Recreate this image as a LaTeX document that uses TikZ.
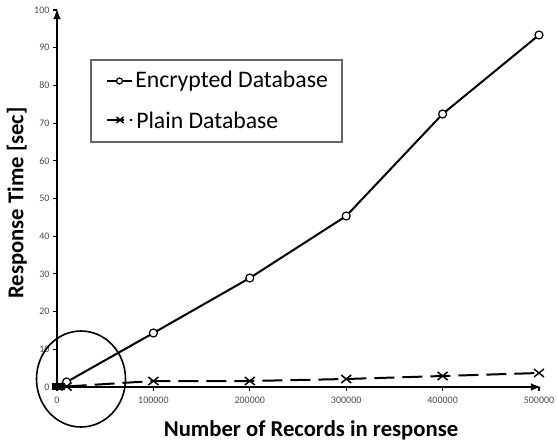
\documentclass[tikz,border=0pt]{standalone}
\usepackage{fontspec}
\setmainfont{Carlito}
\usetikzlibrary{calc}
\definecolor{tickgray}{rgb}{0.300000,0.300000,0.300000}
\definecolor{boxgray}{rgb}{0.400000,0.400000,0.400000}
\tikzset{
  axisline/.style={line width=1.6pt,-latex},
  tickline/.style={line width=0.8pt},
  ticklabel/.style={font=\fontsize{7.5}{8}\selectfont,text=tickgray,inner sep=1pt},
  encline/.style={line width=1.5pt},
  plainline/.style={line width=1.5pt,dash pattern=on 15pt off 6pt},
  circmark/.style={line width=0.9pt},
  crossmark/.style={line width=1.1pt},
  axislabel/.style={font=\fontsize{17}{20}\selectfont\bfseries},
  legendtext/.style={font=\fontsize{17.8}{20}\selectfont,anchor=west,inner sep=0pt}
}
\begin{document}
\begin{tikzpicture}[x=0.75pt,y=0.75pt]
                    \useasboundingbox (0,0) rectangle (557,447);
                    {\footnotesize

                    % Axes
                    \coordinate (origin) at (57.000000,60.000000);
                    \coordinate (xend) at (541.000000,60.000000);
                    \coordinate (yend) at (57.000000,438.000000);
                    \draw [axisline] (origin) -- (xend);%
                    \draw [axisline] (origin) -- (yend);%

                    % Ticks on y axis
                    \draw [tickline] (53.000000,60.000000) -- (57.000000,60.000000);%
                    \draw [tickline] (53.000000,97.700000) -- (57.000000,97.700000);%
                    \draw [tickline] (53.000000,135.400000) -- (57.000000,135.400000);%
                    \draw [tickline] (53.000000,173.100000) -- (57.000000,173.100000);%
                    \draw [tickline] (53.000000,210.800000) -- (57.000000,210.800000);%
                    \draw [tickline] (53.000000,248.500000) -- (57.000000,248.500000);%
                    \draw [tickline] (53.000000,286.200000) -- (57.000000,286.200000);%
                    \draw [tickline] (53.000000,323.900000) -- (57.000000,323.900000);%
                    \draw [tickline] (53.000000,361.600000) -- (57.000000,361.600000);%
                    \draw [tickline] (53.000000,399.300000) -- (57.000000,399.300000);%
                    \draw [tickline] (53.000000,437.000000) -- (57.000000,437.000000);%
                    \node [ticklabel,anchor=east] (y0) at (51.000000,60.000000) {0};%
                    \node [ticklabel,anchor=east] (y10) at (51.000000,97.700000) {10};%
                    \node [ticklabel,anchor=east] (y20) at (51.000000,135.400000) {20};%
                    \node [ticklabel,anchor=east] (y30) at (51.000000,173.100000) {30};%
                    \node [ticklabel,anchor=east] (y40) at (51.000000,210.800000) {40};%
                    \node [ticklabel,anchor=east] (y50) at (51.000000,248.500000) {50};%
                    \node [ticklabel,anchor=east] (y60) at (51.000000,286.200000) {60};%
                    \node [ticklabel,anchor=east] (y70) at (51.000000,323.900000) {70};%
                    \node [ticklabel,anchor=east] (y80) at (51.000000,361.600000) {80};%
                    \node [ticklabel,anchor=east] (y90) at (51.000000,399.300000) {90};%
                    \node [ticklabel,anchor=east] (y100) at (51.000000,437.000000) {100};%

                    % Ticks on x axis
                    \draw [tickline] (57.000000,56.000000) -- (57.000000,60.000000);%
                    \draw [tickline] (153.400000,56.000000) -- (153.400000,60.000000);%
                    \draw [tickline] (249.800000,56.000000) -- (249.800000,60.000000);%
                    \draw [tickline] (346.200000,56.000000) -- (346.200000,60.000000);%
                    \draw [tickline] (442.600000,56.000000) -- (442.600000,60.000000);%
                    \draw [tickline] (539.000000,56.000000) -- (539.000000,60.000000);%
                    \node [ticklabel] (x0) at (57.000000,47.000000) {0};%
                    \node [ticklabel] (x1) at (153.400000,47.000000) {100000};%
                    \node [ticklabel] (x2) at (249.800000,47.000000) {200000};%
                    \node [ticklabel] (x3) at (346.200000,47.000000) {300000};%
                    \node [ticklabel] (x4) at (442.600000,47.000000) {400000};%
                    \node [ticklabel] (x5) at (539.000000,47.000000) {500000};%

                    % Axis titles
                    \node [axislabel] (xtitle) at (311.000000,17.000000) {Number of Records in response};%
                    \node [axislabel,rotate=90] (ytitle) at (17.000000,244.000000) {Response Time [sec]};%

                    % Data points
                    \coordinate (e0) at (57.000000,60.000000);
                    \coordinate (e1) at (66.600000,65.000000);
                    \coordinate (e2) at (153.400000,114.000000);
                    \coordinate (e3) at (249.800000,169.000000);
                    \coordinate (e4) at (346.200000,231.000000);
                    \coordinate (e5) at (442.600000,333.000000);
                    \coordinate (e6) at (539.000000,412.000000);
                    \coordinate (p0) at (57.000000,60.000000);
                    \coordinate (p1) at (66.600000,60.500000);
                    \coordinate (p2) at (153.400000,66.000000);
                    \coordinate (p3) at (249.800000,66.000000);
                    \coordinate (p4) at (346.200000,68.000000);
                    \coordinate (p5) at (442.600000,71.000000);
                    \coordinate (p6) at (539.000000,74.000000);

                    % Drawing encrypted database
                    \draw [encline] (e0) -- (e1) -- (e2) -- (e3) -- (e4) -- (e5) -- (e6);%
                    \foreach \pt in {e1,e2,e3,e4,e5,e6}
                      \draw [circmark,fill=white] (\pt) circle (4.000000);%

                    % Drawing plain database
                    \draw [plainline] (p1) -- (p2) -- (p3) -- (p4) -- (p5) -- (p6);%
                    \foreach \pt in {p1,p2,p3,p4,p5,p6}
                      \draw [crossmark] ($(\pt)+(-5,-4)$) -- ($(\pt)+(5,4)$) ($(\pt)+(-5,4)$) -- ($(\pt)+(5,-4)$);%

                    % Marking cluster at origin
                    \fill (52.000000,57.000000) rectangle (65.000000,64.000000);%

                    % Marking zoom ellipse
                    \draw [line width=1.2pt] (81.000000,68.000000) ellipse (44.500000 and 48.000000);%

                    % Legend
                    \draw [boxgray,line width=0.8pt] (91.000000,305.000000) rectangle (342.000000,387.000000);%
                    \draw [encline] (107.000000,366.000000) -- (132.000000,366.000000);%
                    \draw [circmark,fill=white] (119.500000,366.000000) circle (3.000000);%
                    \node [legendtext] (encname) at (135.000000,366.000000) {Encrypted Database};%
                    \draw [plainline,dash pattern=on 13pt off 4pt on 1.5pt off 20pt] (107.000000,327.000000) -- (132.000000,327.000000);%
                    \draw [crossmark] (116.500000,324.000000) -- (123.500000,330.000000) (116.500000,330.000000) -- (123.500000,324.000000);%
                    \node [legendtext] (plainname) at (136.000000,327.000000) {Plain Database};%
                    }
                    \end{tikzpicture}
\end{document}
